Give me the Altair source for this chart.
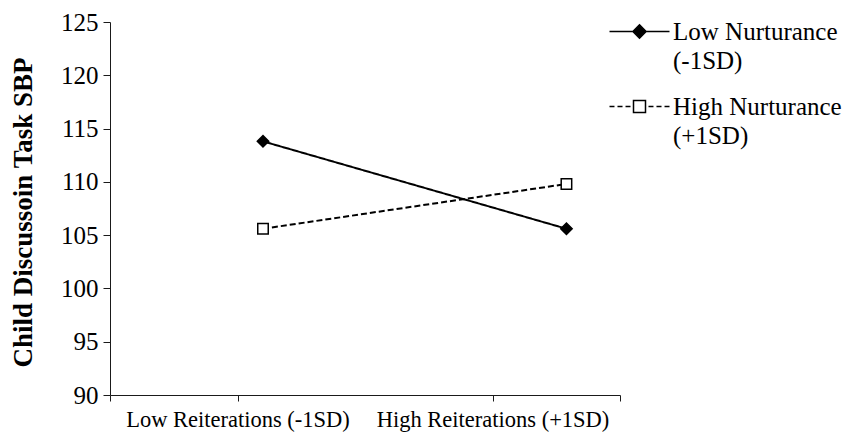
import altair as alt
import pandas as pd

# ---- data ----
categories = ["Low Reiterations (-1SD)", "High Reiterations (+1SD)"]
category_ticks = [1, 3]          # axis positions of the category labels
point_x = [1.2, 3.58]            # where the points sit on the (0-4) axis
series = ["Low Nurturance\n(-1SD)", "High Nurturance\n(+1SD)"]
low_values = [113.8, 105.6]
high_values = [105.6, 109.8]
y_ticks = [90, 95, 100, 105, 110, 115, 120, 125]

rows = []
for s, vals in zip(series, [low_values, high_values]):
    for c, px, v in zip(categories, point_x, vals):
        rows.append({"series": s, "category": c, "xpos": px, "sbp": v})
df = pd.DataFrame(rows)
legend_df = pd.DataFrame({"Nurturance": series})

FONT = "Liberation Serif"
INK = "#1a1a1a"
FS = 25

x_label_expr = (
    f"datum.value == {category_ticks[0]} ? '{categories[0]}' : "
    f"datum.value == {category_ticks[1]} ? '{categories[1]}' : ''"
)

x_enc = alt.X(
    "xpos:Q",
    scale=alt.Scale(domain=[0, 4], nice=False, zero=False),
    axis=alt.Axis(
        title=None, values=[0, 1, 3, 4], labelExpr=x_label_expr,
        grid=False, tickSize=6, labelPadding=7, labelFontSize=22.5,
        labelFont=FONT, labelColor="black", domainColor=INK, tickColor=INK,
        labelFlush=False, labelOverlap=False, labelLimit=400,
    ),
)
y_enc = alt.Y(
    "sbp:Q",
    scale=alt.Scale(domain=[90, 125], nice=False, zero=False),
    axis=alt.Axis(
        title="Child Discussoin Task SBP", values=y_ticks, grid=False,
        tickSize=7, labelPadding=5, labelFontSize=FS, labelFont=FONT,
        labelColor="black", titleFont=FONT, titleFontSize=27,
        titleFontWeight="bold", titleColor="black", titlePadding=23,
        titleY=190, domainColor=INK, tickColor=INK,
    ),
)

lines = alt.Chart(df).mark_line(color="black", strokeWidth=2).encode(
    x=x_enc, y=y_enc,
    strokeDash=alt.StrokeDash(
        "series:N", scale=alt.Scale(domain=series, range=[[1, 0], [6, 3]]),
        legend=None),
    order="xpos:Q",
)

points = alt.Chart(df).mark_point(filled=True, stroke="black", strokeWidth=1.5, opacity=1).encode(
    x=x_enc, y=y_enc,
    shape=alt.Shape("series:N", scale=alt.Scale(domain=series, range=["diamond", "square"]), legend=None),
    fill=alt.Fill("series:N", scale=alt.Scale(domain=series, range=["black", "white"]), legend=None),
    size=alt.Size("series:N", scale=alt.Scale(domain=series, range=[130, 110]), legend=None),
)

low_sym = "M-5,2H5M0,0.9L1.1,2L0,3.1L-1.1,2Z"
high_sym = ("M-5,2H-4.17M-3.67,2H-2.83M-2.33,2H-1.5"
            "M1.5,2H2.33M2.83,2H3.67M4.17,2H5"
            "M-1,1H1V3H-1Z")

legend = alt.Legend(
    title=None, orient="none", legendX=517, legendY=-15, padding=0,
    labelOffset=21, labelFontSize=FS, labelFont=FONT, labelColor="black",
    labelBaseline="top", labelLimit=400, rowPadding=8,
    labelExpr="split(datum.label, '\\n')",
    symbolSize=144, symbolStrokeWidth=1.5, symbolStrokeColor="black",
)

legend_layer = alt.Chart(legend_df).mark_point(
    filled=True, stroke="black", strokeWidth=1.5, opacity=1
).encode(
    shape=alt.Shape("Nurturance:N", scale=alt.Scale(domain=series, range=[low_sym, high_sym]), legend=legend),
    fill=alt.Fill("Nurturance:N", scale=alt.Scale(domain=series, range=["black", "white"]), legend=legend),
    stroke=alt.Stroke("Nurturance:N", scale=alt.Scale(domain=series, range=["black", "black"]), legend=legend),
).transform_filter("false")

chart = alt.layer(lines, points, legend_layer).resolve_scale(
    shape="independent", fill="independent", stroke="independent"
).properties(
    width=510, height=373,
    autosize=alt.AutoSizeParams(type="none"),
    padding={"left": 102, "top": 14, "right": 230, "bottom": 37},
).configure(
    view={"strokeWidth": 0},
    style={"guide-label": {"lineHeight": 29}},
)

chart.save("out.html", embed_options={"renderer": "svg", "actions": False})
